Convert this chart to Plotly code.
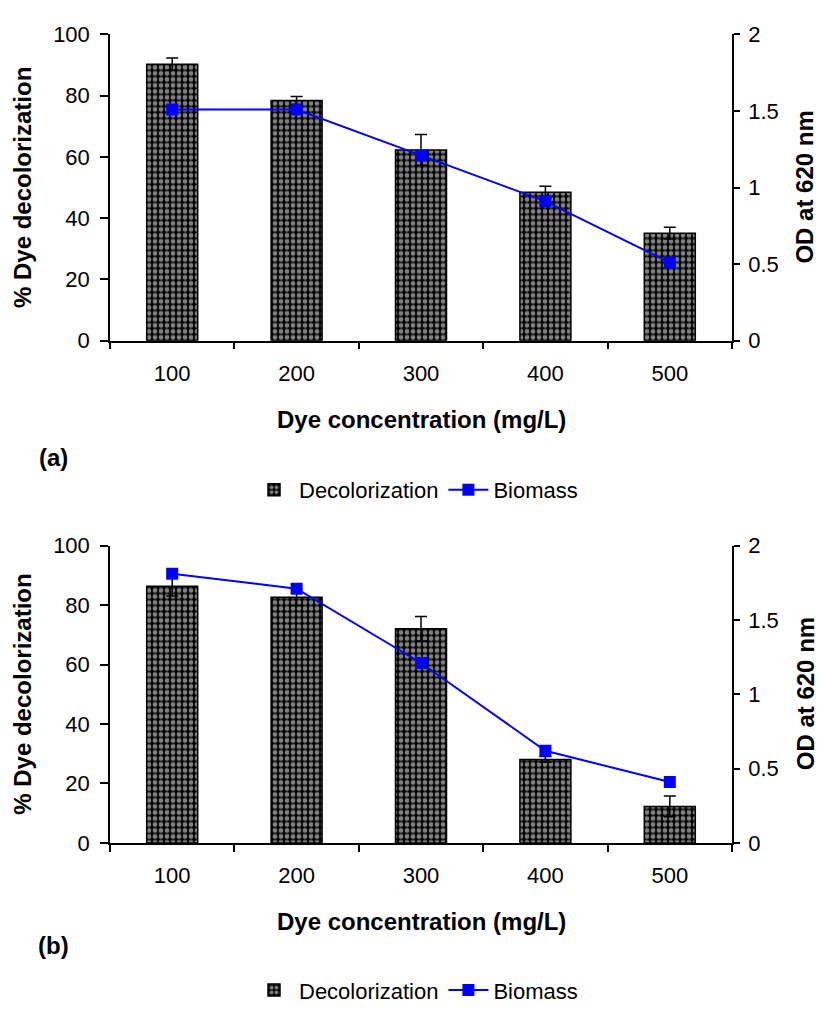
import plotly.graph_objects as go

categories = ["100", "200", "300", "400", "500"]

# Panel (a)
decol_a = [90.3, 78.4, 62.3, 48.5, 35.1]
decol_a_err = [2.0, 1.3, 5.0, 1.9, 1.9]
biomass_a = [1.51, 1.51, 1.21, 0.91, 0.51]

# Panel (b)
decol_b = [86.3, 82.6, 72.0, 28.1, 12.3]
decol_b_err = [3.3, 2.8, 4.1, 1.0, 3.5]
biomass_b = [1.81, 1.71, 1.21, 0.62, 0.41]

left_ticks = [0, 20, 40, 60, 80, 100]
right_ticks = [0, 0.5, 1, 1.5, 2]
right_labels = ["0", "0.5", "1", "1.5", "2"]

FONT = "Liberation Sans, Arial, sans-serif"
W, H = 822, 1014
X0, X1 = 110, 732
PANELS = [(23, 337), (547, 852)]

def py(y):
    return 1 - y / H

fig = go.Figure()

def add_panel(i, decol, err, bio):
    xa = "x" if i == 0 else "x2"
    ya = "y" if i == 0 else "y3"
    ya2 = "y2" if i == 0 else "y4"
    leg = "legend" if i == 0 else "legend2"
    fig.add_trace(go.Bar(
        x=categories, y=decol, name="Decolorization",
        xaxis=xa, yaxis=ya, legend=leg, width=0.41,
        marker=dict(color="black", line=dict(color="black", width=1.5),
                    pattern=dict(shape=".", fgcolor="white", bgcolor="black",
                                 size=6, solidity=0.5)),
        error_y=dict(type="data", array=err, color="black", thickness=1.5, width=6),
    ))
    fig.add_trace(go.Scatter(
        x=categories, y=bio, name="Biomass", mode="lines+markers",
        xaxis=xa, yaxis=ya2, legend=leg,
        line=dict(color="#0000FF", width=2),
        marker=dict(symbol="square", size=12, color="#0000FF"),
    ))

add_panel(0, decol_a, decol_a_err, biomass_a)
add_panel(1, decol_b, decol_b_err, biomass_b)

axis_common = dict(showline=True, linecolor="black", linewidth=1.5,
                   ticks="outside", tickcolor="black", tickwidth=1.5,
                   showgrid=False, zeroline=False,
                   tickfont=dict(family=FONT, size=22, color="black"))

layout = dict(
    width=W, height=H, margin=dict(l=0, r=0, t=0, b=0),
    paper_bgcolor="white", plot_bgcolor="white",
    font=dict(family=FONT, color="black"),
    barmode="group",
)

for i, (top, bot) in enumerate(PANELS):
    xk = "xaxis" if i == 0 else "xaxis2"
    yk = "yaxis" if i == 0 else "yaxis3"
    y2k = "yaxis2" if i == 0 else "yaxis4"
    yname = "y" if i == 0 else "y3"
    xname = "x" if i == 0 else "x2"
    layout[xk] = dict(axis_common, domain=[X0 / W, X1 / W], anchor=yname,
                      type="category", tickson="boundaries", ticklen=7,
                      ticklabelstandoff=12)
    layout[yk] = dict(axis_common, domain=[py(bot), py(top)], anchor=xname,
                      range=[0, 100], tickvals=left_ticks, ticklen=8,
                      ticklabelstandoff=6)
    layout[y2k] = dict(axis_common, domain=[py(bot), py(top)], anchor=xname,
                       overlaying=yname, side="right", range=[0, 2],
                       tickvals=right_ticks, ticktext=right_labels,
                       ticklen=6, ticklabelstandoff=4)

legend_common = dict(orientation="h", xanchor="center", yanchor="middle",
                     font=dict(family=FONT, size=22, color="black"),
                     bgcolor="rgba(0,0,0,0)", itemwidth=40)
layout["legend"] = dict(legend_common, x=416 / W, y=py(490))
layout["legend2"] = dict(legend_common, x=416 / W, y=py(1003))

ann = []
title_font = dict(family=FONT, size=24, color="black")
for i, (top, bot) in enumerate(PANELS):
    mid = (top + bot) / 2
    xt_y = 418 if i == 0 else 933
    ann.append(dict(text="<b>Dye concentration (mg/L)</b>", x=(X0 + X1) / 2 / W, y=py(xt_y),
                    xref="paper", yref="paper", showarrow=False, xanchor="center",
                    yanchor="middle", font=title_font))
    ann.append(dict(text="<b>% Dye decolorization</b>", x=22.5 / W, y=py(mid),
                    xref="paper", yref="paper", showarrow=False, textangle=-90,
                    xanchor="center", yanchor="middle", font=title_font))
    ann.append(dict(text="<b>OD at 620 nm</b>", x=805 / W, y=py(mid),
                    xref="paper", yref="paper", showarrow=False, textangle=-90,
                    xanchor="center", yanchor="middle", font=title_font))
    lab_y = 457 if i == 0 else 957
    ann.append(dict(text="<b>(a)</b>" if i == 0 else "<b>(b)</b>", x=53 / W, y=py(lab_y),
                    xref="paper", yref="paper", showarrow=False, xanchor="center",
                    yanchor="middle", font=dict(family=FONT, size=24, color="black")))
layout["annotations"] = ann

fig.update_layout(**layout)
fig.write_html("out.html", config={"displayModeBar": False},
               post_script="document.body.style.margin='0';document.body.style.overflow='hidden';")
